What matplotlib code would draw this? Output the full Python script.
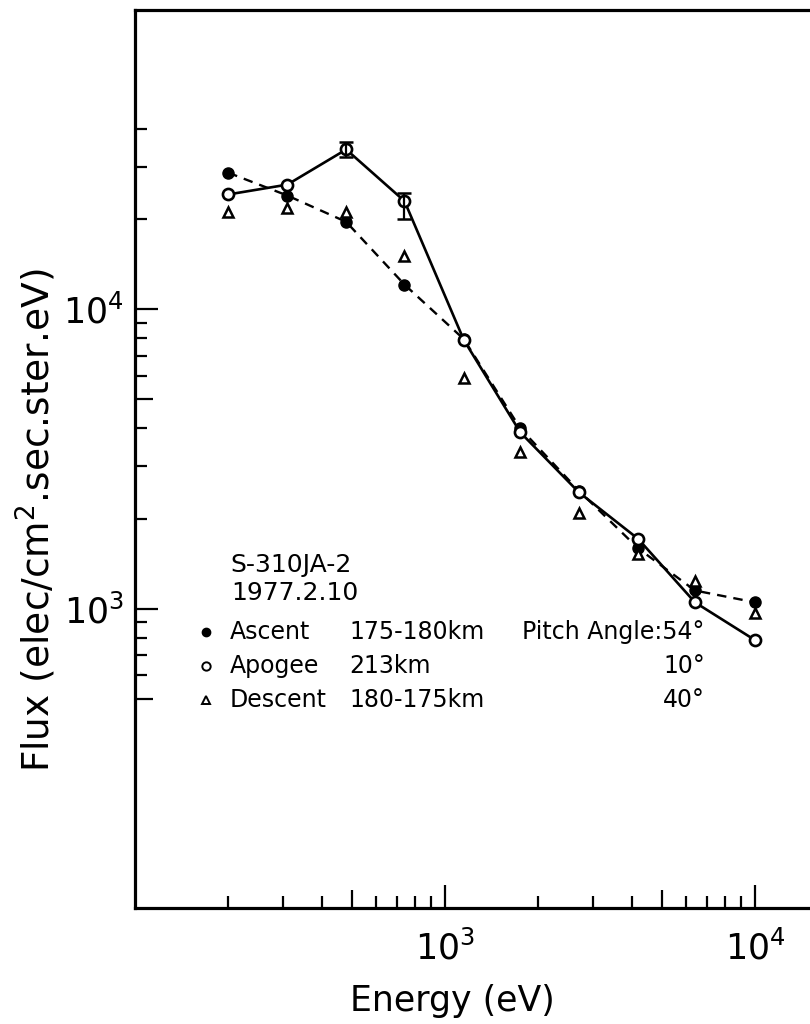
import numpy as np
import matplotlib.pyplot as plt

plt.rcParams['font.family'] = ['DejaVu Sans']
plt.rcParams['mathtext.fontset'] = 'dejavusans'

# electron energy (eV) of each analyser channel
energy = [200, 310, 480, 740, 1150, 1750, 2700, 4200, 6400, 10000]

# differential flux, elec/cm2.sec.ster.eV
ascent_flux = [28600, 24000, 19600, 12100, 7950, 4000, 2480, 1590, 1150, 1050]
apogee_flux = [24200, 26100, 34200, 23000, 7900, 3880, 2450, 1710, 1050, 785]
descent_flux = [21200, 21800, 21200, 15100, 5890, 3350, 2090, 1520, 1240, 970]

# error bars drawn only on two apogee points
err_energy = [480, 740]
err_center = [34200, 23000]
err_low = [32400, 20100]
err_high = [36100, 24500]

flight_name = "S-310JA-2"
flight_date = "1977.2.10"
phase_names = ["Ascent", "Apogee", "Descent"]
phase_alt = ["175-180km", "213km", "180-175km"]
phase_angle = ["Pitch Angle:54\u00b0", "10\u00b0", "40\u00b0"]

fig = plt.figure(figsize=(8.1, 10.24), dpi=100)
ax = fig.add_axes([135 / 810, 1 - 908 / 1024, 675 / 810, 898 / 1024])
ax.set_xscale('log')
ax.set_yscale('log')
ax.set_xlim(100, 10 ** (2 + 675 / 310))
ax.set_ylim(100, 1e5)

ax.plot(energy, ascent_flux, color='k', lw=1.7, ls=(0, (4, 3)),
        marker='o', ms=8, mfc='k', mec='k', zorder=3)
ax.plot(energy, apogee_flux, color='k', lw=1.9, ls='-',
        marker='o', ms=8, mfc='white', mec='k', mew=1.9, zorder=4)
ax.plot(energy, descent_flux, ls='none', marker='^', ms=7.5,
        mfc='white', mec='k', mew=1.8, zorder=5)

yerr = [np.subtract(err_center, err_low), np.subtract(err_high, err_center)]
ax.errorbar(err_energy, err_center, yerr=yerr, fmt='none', ecolor='k',
            elinewidth=1.6, capsize=5, capthick=1.8, zorder=4)

# axes frame: open on the right
for side in ['left', 'bottom', 'top']:
    ax.spines[side].set_linewidth(2.3)
ax.spines['right'].set_visible(False)

ax.set_xticks([1e3, 1e4], labels=[r'$10^3$', r'$10^4$'])
ax.set_yticks([1e3, 1e4], labels=[r'$10^3$', r'$10^4$'])
ax.set_xticks([200, 300, 400, 600, 700, 800, 900,
               2000, 3000, 4000, 6000, 7000, 8000, 9000], minor=True)
ax.set_yticks([600, 700, 800, 900, 2000, 3000, 4000, 6000, 7000, 8000,
               9000, 20000, 30000, 40000], minor=True)
ax.tick_params(which='both', direction='in', top=False, right=False,
               width=1.6, color='k')
ax.tick_params(which='major', length=16.5, labelsize=25)
ax.tick_params(which='minor', length=8.5, labelbottom=False, labelleft=False)
ax.tick_params(axis='x', which='major', pad=16)
ax.tick_params(axis='y', which='major', pad=8)

# half-decade ticks are a bit longer (18 px)
ax.vlines([500, 5000], 0, 18 / 898, transform=ax.get_xaxis_transform(),
          color='k', lw=1.6, clip_on=False)
ax.hlines([500, 5000], 0, 18 / 675, transform=ax.get_yaxis_transform(),
          color='k', lw=1.6, clip_on=False)

ax.set_xlabel('Energy (eV)', fontsize=25)
ax.xaxis.set_label_coords(0.47, -0.085)
ax.set_ylabel('Flux (elec/cm$^2$.sec.ster.eV)', fontsize=27)
ax.yaxis.set_label_coords(-0.114, 0.432)

# flight info and symbol key
ax.text(0.142, 0.382, flight_name, transform=ax.transAxes, fontsize=18, va='center')
ax.text(0.142, 0.351, flight_date, transform=ax.transAxes, fontsize=18, va='center')

row_y = [0.307, 0.2695, 0.2316]
key_styles = [dict(marker='o', mfc='k', ms=6),
              dict(marker='o', mfc='white', ms=6, mew=1.4),
              dict(marker='^', mfc='white', ms=6, mew=1.4)]
for y, name, alt, angle, st in zip(row_y, phase_names, phase_alt, phase_angle, key_styles):
    ax.plot([0.105], [y], transform=ax.transAxes, ls='none', mec='k',
            clip_on=False, **st)
    ax.text(0.14, y, name, transform=ax.transAxes, fontsize=17, va='center')
    ax.text(0.318, y, alt, transform=ax.transAxes, fontsize=17, va='center')
    ax.text(0.844, y, angle, transform=ax.transAxes, fontsize=17,
            va='center', ha='right')

fig.savefig('out.png', dpi=100)
